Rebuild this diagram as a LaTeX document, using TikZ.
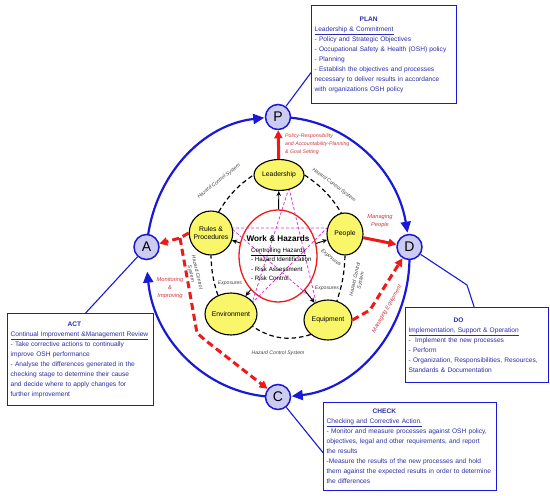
\documentclass[tikz,border=0pt]{standalone}
\usepackage{fontspec}
\setmainfont{Liberation Sans}
\usetikzlibrary{shapes.geometric,arrows.meta}
\definecolor{pdcablue}{RGB}{25,25,215}
\definecolor{lavender}{RGB}{204,204,242}
\definecolor{hazyellow}{RGB}{250,246,105}
\definecolor{boxtext}{RGB}{45,45,165}
\definecolor{redline}{RGB}{240,25,25}
\definecolor{redtext}{RGB}{205,55,65}
\definecolor{starpink}{RGB}{220,60,220}
\tikzset{
  pdca/.style={circle,draw=pdcablue,fill=lavender,line width=1.5pt,minimum size=25pt,inner sep=0pt,font=\fontsize{14}{14}\selectfont},
  hazard/.style={ellipse,draw,fill=hazyellow,line width=1.1pt,inner sep=-2pt,align=center,font=\fontsize{6.8}{8.2}\selectfont},
  infobox/.style={draw=pdcablue,line width=1.3pt,fill=white,text=boxtext,anchor=north west,align=left,inner xsep=3pt,font=\fontsize{6.6}{10}\selectfont},
  pdcaarc/.style={pdcablue,line width=2.2pt,-{Triangle[length=11pt,width=10pt]}},
  boxline/.style={pdcablue,line width=1.1pt},
  hcsline/.style={line width=1.2pt,dash pattern=on 4.5pt off 3pt},
  expo/.style={line width=0.9pt,-{Stealth[length=5pt,width=4.5pt]}},
  starline/.style={starpink,line width=0.8pt,dash pattern=on 3pt off 2pt},
  redarrow/.style={redline,line width=3pt,-{Triangle[length=8pt,width=8pt]}},
  reddash/.style={redline,line width=3pt,dash pattern=on 7pt off 4pt,-{Triangle[length=8pt,width=8pt]}},
  hcslabel/.style={font=\fontsize{5.1}{6}\selectfont\itshape,text=black!75,align=center,inner sep=0pt},
  redlabel/.style={font=\fontsize{5.7}{8}\selectfont\itshape,text=redtext,align=center,inner sep=0pt}
}
\begin{document}
\begin{tikzpicture}[x=1pt,y=-1pt]
\useasboundingbox (0,0) rectangle (550,496);
\draw[pdcaarc] (278,257) ++(180:131.5 and 140) arc[start angle=180,end angle=264,x radius=131.5,y radius=140];
\draw[pdcaarc] (278,257) ++(270:131.5 and 140) arc[start angle=270,end angle=350,x radius=131.5,y radius=140];
\draw[pdcaarc] (278,257) ++(0:131.5 and 140) arc[start angle=0,end angle=84,x radius=131.5,y radius=140];
\draw[pdcaarc] (278,257) ++(90:131.5 and 140) arc[start angle=90,end angle=174,x radius=131.5,y radius=140];

\node[infobox,minimum width=145pt,minimum height=98pt,text width=139pt] (plan) at (311,5) {\hspace*{45pt}\textbf{PLAN}\\\underline{Leadership \& Commitment}\\- Policy and Strategic Objectives\\- Occupational Safety \& Health (OSH) policy\\- Planning\\- Establish the objectives and processes\\necessary to deliver results in accordance\\with organizations OSH policy};
\node[infobox,minimum width=146pt,minimum height=92pt,text width=140pt] (act) at (7,313) {\hspace*{57pt}\textbf{ACT}\\\underline{Continual Improvement \&Management Review}\\- Take corrective actions to continually\\improve OSH performance\\- Analyse the differences generated in the\\checking stage to determine their cause\\and decide where to apply changes for\\further improvement};
\node[infobox,minimum width=143pt,minimum height=75pt,text width=137pt] (do) at (405,307) {\hspace*{45pt}\textbf{DO}\\\underline{Implementation, Support \& Operation}\\-\ \ Implement the new processes\\- Perform\\- Organization, Responsibilities, Resources,\\Standards \& Documentation};
\node[infobox,minimum width=173pt,minimum height=88pt,text width=167pt] (check) at (323,402) {\hspace*{46pt}\textbf{CHECK}\\\underline{Checking and Corrective Action.}\\- Monitor and measure processes against OSH policy,\\objectives, legal and other requirements, and report\\the results\\-Measure the results of the new processes and hold\\them against the expected results in order to determine\\the differences};

\node[pdca] (p) at (278,117) {P};
\node[pdca] (d) at (409.5,247) {D};
\node[pdca] (c) at (278,397) {C};
\node[pdca] (a) at (146.5,247) {A};
\coordinate (dobend) at (467,285);
\draw[boxline] (p) -- ([yshift=-18pt]plan.west);
\draw[boxline] (d) -- (dobend) -- ([xshift=-3pt]do.north);
\draw[boxline] (c) -- ([yshift=-6pt]check.west);
\draw[boxline] (a) -- ([xshift=5pt]act.north);

\node[ellipse,draw=redline,line width=1.3pt,minimum width=78pt,minimum height=92pt] (wh) at (278,256) {};
\coordinate (st1) at (289,188);
\coordinate (st2) at (231,228);
\coordinate (st3) at (327,228);
\coordinate (st4) at (252,303);
\coordinate (st5) at (316,302);
\draw[starline] (st1) -- (st4) -- (st3) -- (st2) -- (st5) -- cycle;
\node[font=\fontsize{8.2}{10}\selectfont\bfseries] (whtitle) at (278,239) {Work \& Hazards};
\node[anchor=north west,align=left,inner sep=0pt,font=\fontsize{6.2}{9.3}\selectfont] (whlist) at (251,248) {\underline{Controlling Hazards}\\- Hazard Identification\\- Risk Assessment\\- Risk Control};

\node[hazard,minimum width=50pt,minimum height=31pt] (lead) at (279,175) {Leadership};
\node[hazard,minimum width=42pt,minimum height=44pt] (rules) at (211,233) {Rules \&\\Procedures};
\node[hazard,minimum width=36pt,minimum height=42pt] (people) at (345,234) {People};
\node[hazard,minimum width=52pt,minimum height=42pt] (env) at (231,314) {Environment};
\node[hazard,minimum width=48pt,minimum height=40pt] (equip) at (328,320) {Equipment};

\draw[hcsline] (rules.70) to[bend left=12] (lead.west);
\draw[hcsline] (lead.east) to[bend left=12] (people.100);
\draw[hcsline] (people.south) to[bend left=8] (equip.65);
\draw[hcsline] (equip.220) to[bend left=25] (env.-30);
\draw[hcsline] (env.125) to[bend left=8] (rules.south);

\draw[expo] (wh) -- (lead);
\draw[expo] (wh) -- (rules);
\draw[expo] (wh) -- (people);
\draw[expo] (wh) -- (env);
\draw[expo] (wh) -- (equip);

\node[hcslabel,rotate=38] (hcs1) at (219,181) {Hazard Control System};
\node[hcslabel,rotate=-37] (hcs2) at (334,185) {Hazard Control System};
\node[hcslabel,rotate=-77] (hcs3) at (194,273) {Hazard Control\\System};
\node[hcslabel,rotate=77] (hcs4) at (358,280) {Hazard Control\\System};
\node[hcslabel] (hcs5) at (278,353) {Hazard Control System};
\node[hcslabel] (exp1) at (230,283) {Exposures};
\node[hcslabel] (exp2) at (327,288) {Exposures};
\node[hcslabel,rotate=-38] (exp3) at (331,258) {Exposures};

\draw[redarrow] (lead) -- (p);
\draw[redarrow] (people) -- (d);
\coordinate (meq) at (370,310);
\draw[reddash] (equip.east) -- (meq) -- (d);
\coordinate (mon1) at (180,238);
\coordinate (mon2) at (197,333);
\coordinate (mon3) at (205,340);
\draw[reddash] (rules.west) -- (mon1) -- (a);
\draw[reddash] (mon1) -- (mon2) -- (mon3) -- (c);

\node[redlabel,anchor=west,align=left,font=\fontsize{5.2}{8.3}\selectfont\itshape] (pollbl) at (285,144) {Policy-Responsibility\\and Accountability-Planning\\\& Goal Setting};
\node[redlabel] (manpeople) at (380,221) {Managing\\People};
\node[redlabel,rotate=60] (maneq) at (387,309) {Managing Equipment};
\node[redlabel] (monimp) at (170,288) {Monitoring\\\&\\Improving};
\end{tikzpicture}
\end{document}
